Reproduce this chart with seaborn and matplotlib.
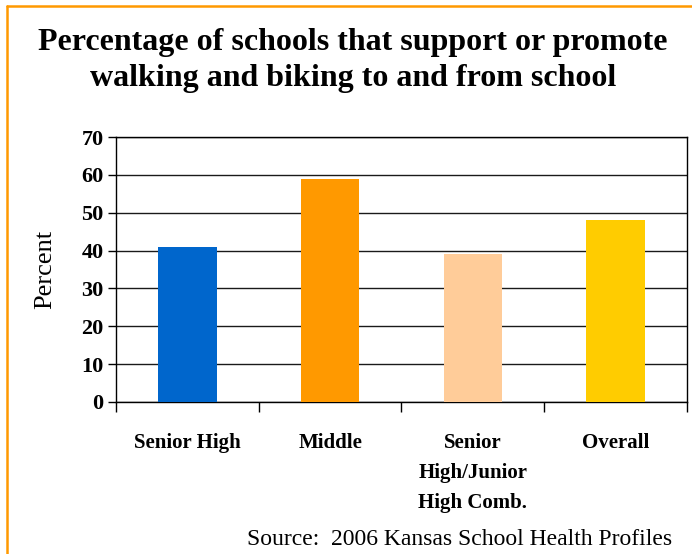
import matplotlib
matplotlib.use("Agg")
import matplotlib.pyplot as plt
from matplotlib.lines import Line2D
import numpy as np
import pandas as pd
import seaborn as sns

categories = ["Senior High", "Middle", "Senior\nHigh/Junior\nHigh Comb.", "Overall"]
percent = [41, 59, 39, 48]
bar_colors = ["#0066CC", "#FF9900", "#FFCC99", "#FFCC00"]
y_ticks = [0, 10, 20, 30, 40, 50, 60, 70]

sns.set_theme(style="white")
plt.rcParams["font.family"] = ["Liberation Serif", "DejaVu Serif"]
plt.rcParams["text.color"] = "black"
plt.rcParams["axes.labelcolor"] = "black"
plt.rcParams["xtick.color"] = "black"
plt.rcParams["ytick.color"] = "black"

df = pd.DataFrame({"category": categories, "percent": percent})

fig = plt.figure(figsize=(6.92, 5.54), dpi=100)
ax = fig.add_axes([0.1676, 0.2744, 0.8252, 0.4783])

sns.barplot(data=df, x="category", y="percent", hue="category",
            palette=bar_colors, width=0.41, legend=False, saturation=1,
            linewidth=0, ax=ax, zorder=3)

ax.set_ylim(0, 70)
ax.set_xlim(-0.5, len(categories) - 0.5)
ax.set_yticks(y_ticks)
ax.set_yticklabels([str(v) for v in y_ticks], fontsize=16, fontweight="bold")
ax.tick_params(axis="y", direction="out", length=6, width=1, color="black",
               pad=3, left=True)

# category labels, with tick marks on the category boundaries
ax.set_xticks(range(len(categories)))
ax.set_xticklabels(categories, fontsize=15, fontweight="bold", linespacing=1.68,
                   va="top")
ax.tick_params(axis="x", which="major", length=0, pad=22)
ax.set_xticks(np.arange(-0.5, len(categories), 1.0), minor=True)
ax.tick_params(axis="x", which="minor", direction="out", length=7, width=1,
               color="black", bottom=True)

ax.yaxis.grid(True, color="#1a1a1a", linewidth=1, zorder=0)
ax.set_axisbelow(True)
for side in ["left", "right", "bottom", "top"]:
    ax.spines[side].set_visible(True)
    ax.spines[side].set_color("black")
    ax.spines[side].set_linewidth(1)

ax.set_xlabel("")
ax.set_ylabel("Percent", fontsize=19, labelpad=18)

fig.text(0.51, 0.95, "Percentage of schools that support or promote\n"
         "walking and biking to and from school",
         ha="center", va="top", fontsize=23, fontweight="bold", linespacing=1.32)

fig.text(0.972, 0.008, "Source:  2006 Kansas School Health Profiles",
         ha="right", va="bottom", fontsize=17)

# orange frame along the left and top edges
fig.add_artist(Line2D([6.5 / 692, 6.5 / 692], [0, 1 - 5.5 / 554],
                      transform=fig.transFigure, color="#FF9900", linewidth=1.8))
fig.add_artist(Line2D([6.5 / 692, 1], [1 - 5.5 / 554, 1 - 5.5 / 554],
                      transform=fig.transFigure, color="#FF9900", linewidth=1.8))

fig.savefig("out.png", dpi=100)
